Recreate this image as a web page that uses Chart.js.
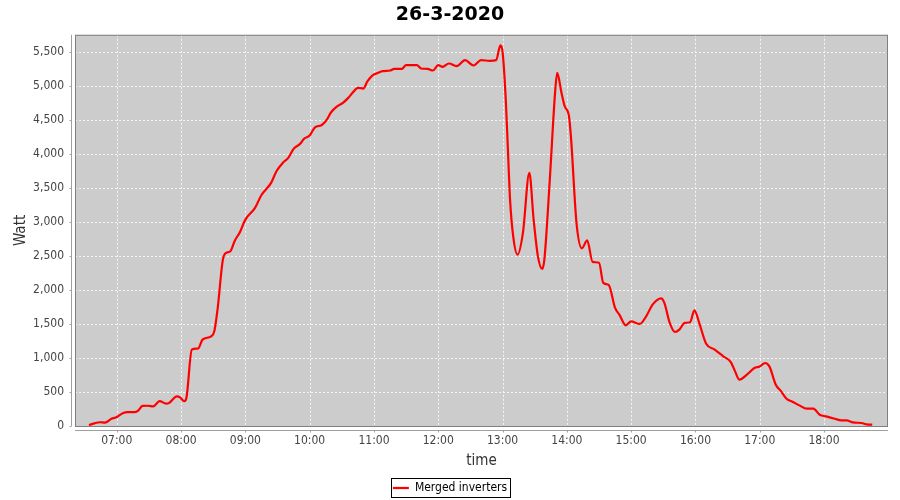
<!DOCTYPE html>
<html>
<head>
<meta charset="utf-8">
<script src="https://cdn.jsdelivr.net/npm/chart.js@4.4.0/dist/chart.umd.min.js"></script>
<style>
    html, body { margin: 0; padding: 0; background: #ffffff; }
    canvas { display: block; }
</style>
</head>
<body>
<canvas id="powerChart" width="900" height="500"></canvas>
<script>
"use strict";

/* Mätpunkter 26-3-2020, klockslag och effekt (W) */
const times = [
    "06:34", "06:44", "06:49", "06:55", "06:59", "07:06", "07:10", "07:17", "07:20", "07:24",
    "07:29", "07:34", "07:40", "07:46", "07:49", "07:56", "07:59", "08:03", "08:05", "08:10",
    "08:14", "08:16", "08:20", "08:28", "08:31", "08:34", "08:39", "08:42", "08:46", "08:50",
    "08:55", "09:00", "09:09", "09:15", "09:24", "09:29", "09:35", "09:40", "09:45", "09:51",
    "09:55", "10:00", "10:05", "10:11", "10:16", "10:20", "10:25", "10:31", "10:36", "10:40",
    "10:45", "10:50", "10:54", "10:59", "11:04", "11:08", "11:15", "11:19", "11:26", "11:30",
    "11:40", "11:44", "11:50", "11:55", "12:00", "12:04", "12:10", "12:17", "12:25", "12:33",
    "12:40", "12:48", "12:54", "12:58", "13:00", "13:03", "13:05", "13:07", "13:10", "13:14",
    "13:19", "13:25", "13:29", "13:33", "13:37", "13:39", "13:44", "13:49", "13:51", "13:55",
    "13:58", "14:02", "14:04", "14:09", "14:14", "14:19", "14:24", "14:30", "14:34", "14:39",
    "14:45", "14:49", "14:55", "15:00", "15:08", "15:14", "15:20", "15:28", "15:31", "15:36",
    "15:41", "15:45", "15:50", "15:55", "15:59", "16:04", "16:10", "16:18", "16:26", "16:33",
    "16:37", "16:41", "16:48", "16:55", "17:00", "17:05", "17:09", "17:15", "17:20", "17:25",
    "17:31", "17:37", "17:44", "17:50", "17:56", "18:02", "18:10", "18:16", "18:21", "18:27",
    "18:35", "18:40", "18:45"
];

const watts = [
    15, 55, 50, 105, 125, 190, 205, 205, 225, 295,
    298, 288, 365, 328, 340, 435, 420, 365, 416, 1122,
    1137, 1140, 1269, 1318, 1391, 1710, 2446, 2544, 2568, 2720,
    2853, 3034, 3206, 3395, 3574, 3744, 3868, 3941, 4074, 4147,
    4225, 4269, 4391, 4421, 4504, 4612, 4691, 4750, 4823, 4897,
    4971, 4960, 5068, 5156, 5191, 5215, 5225, 5250, 5250, 5303,
    5303, 5255, 5250, 5225, 5303, 5279, 5328, 5289, 5377, 5299,
    5377, 5368, 5377, 5595, 5500, 4798, 4063, 3328, 2780, 2519,
    2838, 3721, 3034, 2494, 2309, 2446, 3597, 4897, 5191, 4897,
    4700, 4553, 4210, 2985, 2612, 2727, 2412, 2400, 2103, 2074,
    1735, 1637, 1480, 1538, 1500, 1612, 1784, 1877, 1809, 1515,
    1382, 1416, 1515, 1524, 1700, 1490, 1210, 1122, 1024, 940,
    803, 681, 754, 853, 876, 926, 876, 607, 509, 401,
    353, 303, 254, 254, 166, 141, 107, 82, 82, 53,
    44, 24, 19
];

const xTickLabels = ["07:00", "08:00", "09:00", "10:00", "11:00", "12:00",
                     "13:00", "14:00", "15:00", "16:00", "17:00", "18:00"];
const yTickValues = [0, 500, 1000, 1500, 2000, 2500, 3000, 3500, 4000, 4500, 5000, 5500];

const chartTitle = "26-3-2020";
const seriesName = "Merged inverters";

/* Omvandlar "HH:MM" till minuter efter midnatt */
function toMinutes(hhmm) {
    const [h, m] = hhmm.split(":").map(Number);
    return h * 60 + m;
}

/* Omvandlar minuter till "HH:MM" */
function toLabel(minutes) {
    const h = Math.floor(minutes / 60);
    const m = Math.round(minutes % 60);
    return String(h).padStart(2, "0") + ":" + String(m).padStart(2, "0");
}

const points = times.map((t, i) => ({ x: toMinutes(t), y: watts[i] }));

const axisGray = "#a0a0a0";
const tickFont = { family: "'DejaVu Sans Condensed', 'DejaVu Sans', sans-serif", size: 12 };
const titleFont = { family: "'DejaVu Sans Condensed', 'DejaVu Sans', sans-serif", size: 15 };

/* Grå plotbakgrund, streckat rutnät, ram, axellinjer och legendram i JFreeChart-stil */
const plotFrame = {
    id: "plotFrame",
    beforeDraw(chart) {
        const { ctx, chartArea: a } = chart;
        ctx.save();
        ctx.fillStyle = "#cccccc";
        ctx.fillRect(a.left, a.top, a.right - a.left, a.bottom - a.top);
        ctx.restore();
    },
    beforeDatasetsDraw(chart) {
        const { ctx, chartArea: a } = chart;
        ctx.save();
        ctx.strokeStyle = "rgba(255,255,255,0.8)";
        ctx.lineWidth = 1;
        ctx.setLineDash([2, 2]);
        ctx.beginPath();
        xTickLabels.forEach(t => {
            const x = Math.round(chart.scales.x.getPixelForValue(toMinutes(t))) + 0.5;
            ctx.moveTo(x, a.top);
            ctx.lineTo(x, a.bottom);
        });
        yTickValues.forEach(v => {
            const y = Math.round(chart.scales.y.getPixelForValue(v)) + 0.5;
            ctx.moveTo(a.left, y);
            ctx.lineTo(a.right, y);
        });
        ctx.stroke();
        ctx.restore();
    },
    afterDatasetsDraw(chart) {
        const { ctx, chartArea: a } = chart;
        ctx.save();
        ctx.strokeStyle = "#808080";
        ctx.lineWidth = 1;
        ctx.strokeRect(a.left + 0.5, a.top + 0.5, a.right - a.left - 1, a.bottom - a.top);
        ctx.restore();
    },
    afterDraw(chart) {
        const { ctx, chartArea: a } = chart;
        const yAxisX = a.left - 4 + 0.5;
        const xAxisY = a.bottom + 4 + 0.5;
        ctx.save();
        ctx.strokeStyle = axisGray;
        ctx.lineWidth = 1;
        ctx.beginPath();
        ctx.moveTo(yAxisX, a.top);
        ctx.lineTo(yAxisX, a.bottom);
        ctx.moveTo(a.left, xAxisY);
        ctx.lineTo(a.right, xAxisY);
        yTickValues.forEach(v => {
            const y = Math.round(chart.scales.y.getPixelForValue(v)) + 0.5;
            ctx.moveTo(yAxisX - 2, y);
            ctx.lineTo(yAxisX, y);
        });
        xTickLabels.forEach(t => {
            const x = Math.round(chart.scales.x.getPixelForValue(toMinutes(t))) + 0.5;
            ctx.moveTo(x, xAxisY);
            ctx.lineTo(x, xAxisY + 2);
        });
        ctx.stroke();

        const hb = chart.legend.legendHitBoxes[0];
        if (hb) {
            const cy = hb.top + hb.height / 2;
            ctx.strokeStyle = "#000000";
            ctx.strokeRect(Math.round(hb.left - 2) + 0.5, Math.round(cy - 10) + 0.5,
                           Math.round(hb.width + 5), 19);
        }
        ctx.restore();
    }
};

const ctx = document.getElementById("powerChart");

new Chart(ctx, {
    type: "line",
    data: {
        datasets: [{
            label: seriesName,
            data: points,
            borderColor: "#ff0000",
            backgroundColor: "#ff0000",
            borderWidth: 2.2,
            pointRadius: 0,
            cubicInterpolationMode: "monotone",
            fill: false
        }]
    },
    options: {
        responsive: false,
        animation: false,
        layout: {
            padding: { left: 0, right: 0, top: 0, bottom: -4 }
        },
        plugins: {
            title: {
                display: true,
                text: chartTitle,
                color: "#000000",
                font: { family: "'DejaVu Sans', sans-serif", size: 19, weight: "bold" },
                padding: { top: 4, bottom: 8 }
            },
            legend: {
                position: "bottom",
                labels: {
                    color: "#000000",
                    font: tickFont,
                    usePointStyle: true,
                    pointStyle: "line",
                    pointStyleWidth: 16,
                    padding: 8
                }
            },
            tooltip: { enabled: false }
        },
        scales: {
            x: {
                type: "linear",
                min: toMinutes("06:21"),
                max: toMinutes("19:00") - 0.3,
                afterBuildTicks: scale => {
                    scale.ticks = xTickLabels.map(t => ({ value: toMinutes(t) }));
                },
                afterFit: scale => { scale.height = 48; },
                ticks: {
                    color: "#444444",
                    font: tickFont,
                    padding: 8,
                    maxRotation: 0,
                    autoSkip: false,
                    callback: value => toLabel(value)
                },
                grid: { display: false, drawTicks: false },
                border: { display: false },
                title: {
                    display: true,
                    text: "time",
                    color: "#333333",
                    font: titleFont,
                    padding: { top: 0, bottom: 4 }
                }
            },
            y: {
                min: 0,
                max: 5750,
                afterBuildTicks: scale => {
                    scale.ticks = yTickValues.map(v => ({ value: v }));
                },
                afterFit: scale => { scale.width = 75; },
                ticks: {
                    color: "#444444",
                    font: tickFont,
                    padding: 11,
                    callback: value => value.toLocaleString("en-US")
                },
                grid: { display: false, drawTicks: false },
                border: { display: false },
                title: {
                    display: true,
                    text: "Watt",
                    color: "#333333",
                    font: titleFont,
                    padding: { top: 12, bottom: 0 }
                }
            },
            yRight: {
                position: "right",
                display: true,
                afterFit: scale => { scale.width = 12; },
                ticks: { display: false },
                grid: { display: false, drawTicks: false },
                border: { display: false }
            }
        }
    },
    plugins: [plotFrame]
});
</script>
</body>
</html>
